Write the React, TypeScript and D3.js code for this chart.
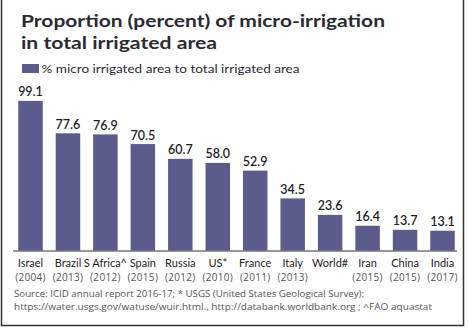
import React from "react";
import * as d3 from "d3";

const categories = ["Israel", "Brazil", "S Africa^", "Spain", "Russia", "US*", "France", "Italy", "World#", "Iran", "China", "India"];
const years = ["(2004)", "(2013)", "(2012)", "(2015)", "(2012)", "(2010)", "(2011)", "(2013)", "", "(2015)", "(2015)", "(2017)"];
const values = [99.1, 77.6, 76.9, 70.5, 60.7, 58.0, 52.9, 34.5, 23.6, 16.4, 13.7, 13.1];
const titleLines = ["Proportion (percent) of micro-irrigation", "in total irrigated area"];
const legendLabel = "% micro irrigated area to total irrigated area";
const sourceLines = [
  "Source: ICID annual report 2016-17; * USGS (United States Geological Survey):",
  "https://water.usgs.gov/watuse/wuir.html., http://databank.worldbank.org ;  ^FAO aquastat",
];

const W = 469;
const H = 328;
const BAR = "#5b5c8b";

export default function App() {
  const x = d3.scaleBand<string>().domain(categories).range([7, 466]).paddingInner(0.346).paddingOuter(0.3);
  const y = d3.scaleLinear().domain([0, 100]).range([250.5, 99.5]);
  const data = categories.map((c, i) => ({ c, v: values[i], yr: years[i] }));
  return (
    <svg width={W} height={H} style={{ position: "absolute", left: 0, top: 0, background: "#fff" }}>
      <rect x={0} y={0} width={W} height={H} fill="#fff" />
      {/* frame */}
      <path d="M1.5,0 V325.5 H463.5 V0" fill="none" stroke="#333" strokeWidth={1.5} />
      {/* title */}
      <g fontFamily="Lato, 'Noto Sans', sans-serif" fontWeight={700} fill="#2a2a33" fontSize={17.5}>
        <text x={21} y={27} textLength={364} lengthAdjust="spacingAndGlyphs">{titleLines[0]}</text>
        <text x={21} y={49} textLength={196} lengthAdjust="spacingAndGlyphs">{titleLines[1]}</text>
      </g>
      {/* legend */}
      <rect x={22} y={64} width={17} height={9} fill={BAR} />
      <text x={41.5} y={72.5} fontFamily="Lato, 'Noto Sans', sans-serif" fontSize={11.5} fill="#2a2a33" textLength={258} lengthAdjust="spacingAndGlyphs">{legendLabel}</text>
      {/* bars */}
      {data.map((d) => (
        <rect key={d.c} x={x(d.c)} y={y(d.v)} width={x.bandwidth()} height={y(0) - y(d.v)} fill={BAR} />
      ))}
      {/* value labels */}
      {data.map((d) => (
        <text key={"v" + d.c} x={(x(d.c) as number) + x.bandwidth() / 2} y={y(d.v) - 4.5} textAnchor="middle" fontFamily="Lato, sans-serif" fontWeight={600} fontSize={12.5} fill="#1e1e24">
          {d.v.toFixed(1)}
        </text>
      ))}
      {/* axis line */}
      <line x1={13} x2={457} y1={251} y2={251} stroke="#333" strokeWidth={1} />
      {/* category labels */}
      {data.map((d) => (
        <text key={"c" + d.c} x={(x(d.c) as number) + x.bandwidth() / 2} y={267} textAnchor="middle" fontFamily="Lato, sans-serif" fontWeight={400} fontSize={11} fill="#1e1e24">
          {d.c}
        </text>
      ))}
      {data.map((d) => (
        <text key={"y" + d.c} x={(x(d.c) as number) + x.bandwidth() / 2} y={281} textAnchor="middle" fontFamily="'Open Sans', sans-serif" fontSize={10} letterSpacing={0.3} fill="#555">
          {d.yr}
        </text>
      ))}
      {/* source */}
      <g fontFamily="'Open Sans', sans-serif" fontSize={9.6} fill="#555">
        <text x={14} y={297} textLength={350} lengthAdjust="spacingAndGlyphs">{sourceLines[0]}</text>
        <text x={14} y={310} textLength={418} lengthAdjust="spacingAndGlyphs">{sourceLines[1]}</text>
      </g>
    </svg>
  );
}
